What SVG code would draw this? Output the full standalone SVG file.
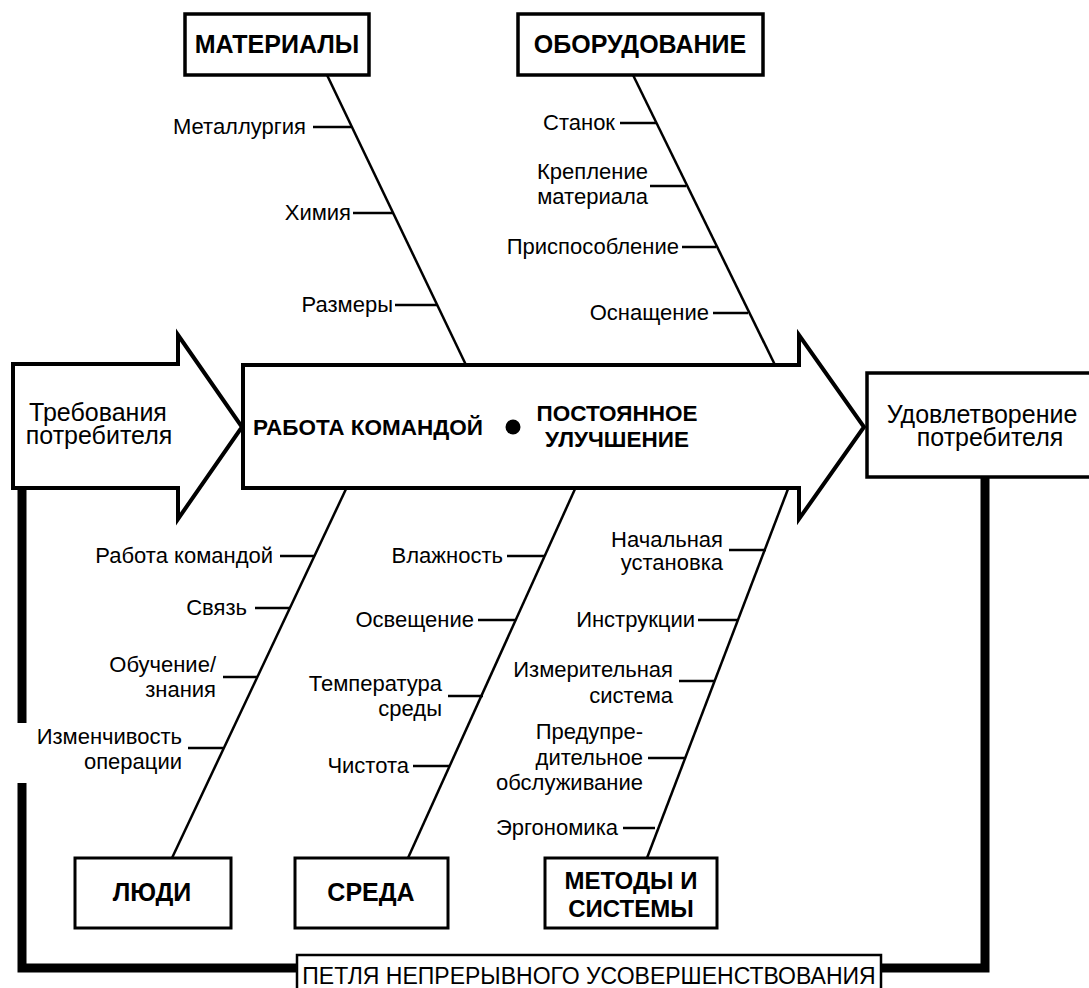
<svg xmlns="http://www.w3.org/2000/svg" width="1089" height="988" viewBox="0 0 1089 988">
<style>
.t{font-family:"Liberation Sans",Arial,sans-serif;font-size:22px;fill:#000}
.e{text-anchor:end}
.m{text-anchor:middle}
.b{font-family:"Liberation Sans",Arial,sans-serif;font-weight:bold;fill:#000;text-anchor:middle;font-size:25px}
.bm{font-size:22.5px}
.big{font-size:25px}
.bone{stroke:#000;stroke-width:2.5;fill:none}
.rib{stroke:#000;stroke-width:2.5}
.box{fill:#fff;stroke:#000;stroke-width:3}
.arr{fill:#fff;stroke:#000;stroke-width:4;stroke-linejoin:miter}
.loop{stroke:#000;stroke-width:9;fill:none}
</style>
<rect width="1089" height="988" fill="#fff"/>
<g id="connectors">
<path class="loop" d="M22,489 V723 M22,783 V968 H297 M881,968 H985 V477"/>
<line class="bone" x1="327" y1="75" x2="466" y2="365"/>
<line class="bone" x1="633" y1="75" x2="775" y2="365"/>
<line class="bone" x1="346" y1="489" x2="172" y2="858"/>
<line class="bone" x1="575" y1="489" x2="408" y2="858"/>
<line class="bone" x1="788" y1="489" x2="647" y2="858"/>
<line class="rib" x1="313" y1="127" x2="351" y2="127"/>
<line class="rib" x1="353" y1="213" x2="393" y2="213"/>
<line class="rib" x1="395" y1="305" x2="437" y2="305"/>
<line class="rib" x1="620" y1="123" x2="656" y2="123"/>
<line class="rib" x1="650" y1="186" x2="686" y2="186"/>
<line class="rib" x1="682" y1="247" x2="716" y2="247"/>
<line class="rib" x1="713" y1="313" x2="748" y2="313"/>
<line class="rib" x1="280" y1="556" x2="315" y2="556"/>
<line class="rib" x1="255" y1="608" x2="290" y2="608"/>
<line class="rib" x1="223" y1="677" x2="257" y2="677"/>
<line class="rib" x1="188" y1="748" x2="223" y2="748"/>
<line class="rib" x1="507" y1="556" x2="545" y2="556"/>
<line class="rib" x1="478" y1="620" x2="516" y2="620"/>
<line class="rib" x1="448" y1="696" x2="483" y2="696"/>
<line class="rib" x1="413" y1="766" x2="449" y2="766"/>
<line class="rib" x1="729" y1="550" x2="766" y2="550"/>
<line class="rib" x1="698" y1="620" x2="738" y2="620"/>
<line class="rib" x1="679" y1="681" x2="714" y2="681"/>
<line class="rib" x1="648" y1="758" x2="685" y2="758"/>
<line class="rib" x1="623" y1="828" x2="655" y2="828"/>
</g>
<g id="input">
<polygon class="arr" points="13,364 178,364 178,335 242,427 178,519 178,488 13,488"/>
<text class="t m big" x="98" y="421">Требования</text>
<text class="t m big" x="99" y="444">потребителя</text>
</g>
<g id="main">
<polygon class="arr" points="243,365 799,365 799,335 864,427 799,519 799,488 243,488"/>
<text class="b bm" x="368" y="435">РАБОТА КОМАНДОЙ</text>
<circle cx="513" cy="427" r="7.5" fill="#000"/>
<text class="b bm" x="617" y="421">ПОСТОЯННОЕ</text>
<text class="b bm" x="617" y="447">УЛУЧШЕНИЕ</text>
</g>
<g id="output">
<rect class="box" style="stroke-width:3.5" x="867" y="373" width="230" height="104"/>
<text class="t m big" x="982" y="423">Удовлетворение</text>
<text class="t m big" x="990" y="446">потребителя</text>
</g>
<g id="materials">
<rect class="box" style="stroke-width:3.5" x="185" y="14" width="184" height="61"/>
<text class="b" x="277" y="53">МАТЕРИАЛЫ</text>
<text class="t e" x="306" y="134">Металлургия</text>
<text class="t e" x="351" y="220">Химия</text>
<text class="t e" x="393" y="312">Размеры</text>
</g>
<g id="equipment">
<rect class="box" style="stroke-width:3.5" x="518" y="14" width="245" height="61"/>
<text class="b" x="640" y="53">ОБОРУДОВАНИЕ</text>
<text class="t e" x="615" y="130">Станок</text>
<text class="t e" x="648" y="179">Крепление</text>
<text class="t e" x="648" y="204">материала</text>
<text class="t e" x="679" y="254">Приспособление</text>
<text class="t e" x="709" y="320">Оснащение</text>
</g>
<g id="people">
<rect class="box" x="75" y="858" width="156" height="70"/>
<text class="b" x="152" y="901">ЛЮДИ</text>
<text class="t e" x="273" y="563">Работа командой</text>
<text class="t e" x="247" y="615">Связь</text>
<text class="t e" x="216" y="672">Обучение/</text>
<text class="t e" x="216" y="697">знания</text>
<text class="t e" x="182" y="744">Изменчивость</text>
<text class="t e" x="182" y="769">операции</text>
</g>
<g id="environment">
<rect class="box" x="295" y="858" width="153" height="70"/>
<text class="b" x="371" y="901">СРЕДА</text>
<text class="t e" x="503" y="563">Влажность</text>
<text class="t e" x="474" y="627">Освещение</text>
<text class="t e" x="442" y="691">Температура</text>
<text class="t e" x="442" y="716">среды</text>
<text class="t e" x="409" y="773">Чистота</text>
</g>
<g id="methods">
<rect class="box" x="545" y="858" width="172" height="70"/>
<text class="b" style="font-size:24px" x="631" y="889">МЕТОДЫ И</text>
<text class="b" style="font-size:24px" x="631" y="917">СИСТЕМЫ</text>
<text class="t e" x="723" y="547">Начальная</text>
<text class="t e" x="723" y="570">установка</text>
<text class="t e" x="695" y="627">Инструкции</text>
<text class="t e" x="673" y="677">Измерительная</text>
<text class="t e" x="673" y="703">система</text>
<text class="t e" x="643" y="739">Предупре-</text>
<text class="t e" x="643" y="765">дительное</text>
<text class="t e" x="643" y="790">обслуживание</text>
<text class="t e" x="618" y="835">Эргономика</text>
</g>
<g id="loop-label">
<rect class="box" style="stroke-width:2.5" x="297" y="955" width="584" height="40"/>
<text class="t m" style="font-size:23px" x="589" y="984">ПЕТЛЯ НЕПРЕРЫВНОГО УСОВЕРШЕНСТВОВАНИЯ</text>
</g>
</svg>
